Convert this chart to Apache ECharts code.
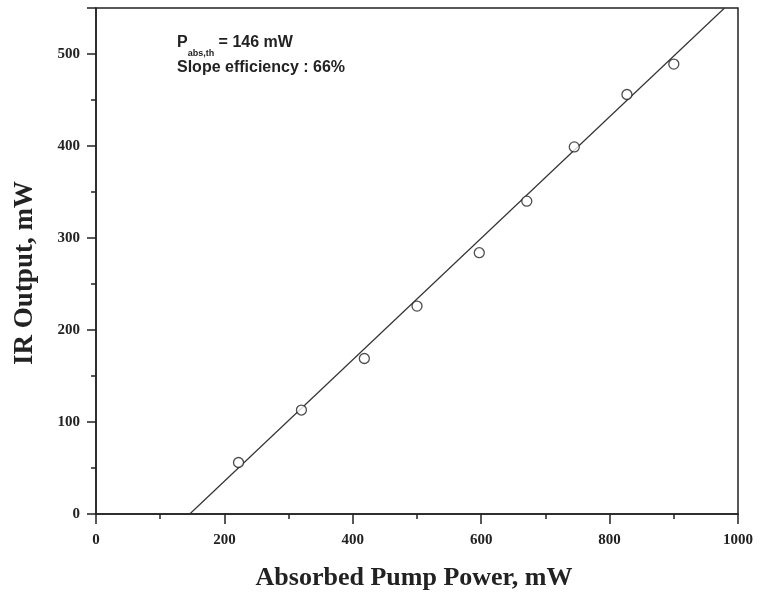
<!DOCTYPE html>
<html>
<head>
<meta charset="utf-8">
<script src="https://cdn.jsdelivr.net/npm/echarts@6/dist/echarts.min.js"></script>
<style>
  html, body { margin: 0; padding: 0; background: #fff; }
  #chart { width: 760px; height: 599px; }
</style>
</head>
<body>
<div id="chart"></div>
<script>
// measured points (absorbed pump power, IR output)
const pumpPower = [222, 320, 418, 500, 597, 671, 745, 827, 900];
const irOutput = [56, 113, 169, 226, 284, 340, 399, 456, 489];

// linear fit: threshold 146 mW, slope 66%
const fitX = [146, 979];
const fitY = [0, 550];

const xTicks = [0, 200, 400, 600, 800, 1000];
const yTicks = [0, 100, 200, 300, 400, 500];

const chart = echarts.init(document.getElementById('chart'));

const serif = '"Liberation Serif", "DejaVu Serif", serif';
const sans = '"Liberation Sans", Arial, sans-serif';

const option = {
    animation: false,
    backgroundColor: '#fff',
    grid: { left: 96, right: 22, top: 8, bottom: 85, show: true, borderColor: '#222', borderWidth: 1.5 },
    xAxis: {
        type: 'value',
        min: 0,
        max: 1000,
        interval: 200,
        axisLine: { onZero: false, lineStyle: { color: '#222', width: 1.5 } },
        axisTick: { show: true, length: 10, lineStyle: { color: '#222', width: 1.5 } },
        minorTick: { show: true, splitNumber: 2, length: 5, lineStyle: { color: '#222', width: 1.5 } },
        splitLine: { show: false },
        axisLabel: {
            margin: 19,
            fontFamily: serif,
            fontWeight: 'bold',
            fontSize: 15,
            color: '#222',
            formatter: v => xTicks.includes(v) ? String(v) : ''
        }
    },
    yAxis: {
        type: 'value',
        min: 0,
        max: 550,
        interval: 100,
        axisLine: { onZero: false, lineStyle: { color: '#222', width: 1.5 } },
        axisTick: { show: true, length: 9, lineStyle: { color: '#222', width: 1.5 } },
        minorTick: { show: true, splitNumber: 2, length: 5, lineStyle: { color: '#222', width: 1.5 } },
        splitLine: { show: false },
        axisLabel: {
            margin: 16,
            fontFamily: serif,
            fontWeight: 'bold',
            fontSize: 15,
            color: '#222',
            showMaxLabel: false,
            formatter: v => yTicks.includes(v) ? String(v) : ''
        }
    },
    series: [
        {
            type: 'line',
            data: fitX.map((x, i) => [x, fitY[i]]),
            showSymbol: false,
            lineStyle: { color: '#333', width: 1.2 },
            z: 2
        },
        {
            type: 'scatter',
            data: pumpPower.map((x, i) => [x, irOutput[i]]),
            symbol: 'circle',
            symbolSize: 10,
            itemStyle: { color: '#fff', borderColor: '#222', borderWidth: 1.3 },
            z: 3
        }
    ],
    graphic: [
        {
            type: 'text',
            x: 414,
            y: 578,
            style: {
                text: 'Absorbed Pump Power, mW',
                font: 'bold 26px ' + serif,
                fill: '#222',
                align: 'center',
                verticalAlign: 'middle'
            }
        },
        {
            type: 'text',
            x: 25,
            y: 273,
            rotation: Math.PI / 2,
            style: {
                text: 'IR Output, mW',
                font: 'bold 27px ' + serif,
                fill: '#222',
                align: 'center',
                verticalAlign: 'middle'
            }
        },
        {
            type: 'text',
            x: 177,
            y: 35,
            style: {
                text: '{p|P}{sub|abs,th}{p| = 146 mW}',
                fill: '#222',
                rich: {
                    p: { font: 'bold 16px ' + sans, fill: '#222', verticalAlign: 'top', lineHeight: 17 },
                    sub: { font: 'bold 9px ' + sans, fill: '#222', verticalAlign: 'bottom', lineHeight: 23 }
                }
            }
        },
        {
            type: 'text',
            x: 177,
            y: 60,
            style: {
                text: 'Slope efficiency : 66%',
                font: 'bold 16px ' + sans,
                fill: '#222'
            }
        }
    ]
};

chart.setOption(option);
</script>
</body>
</html>
